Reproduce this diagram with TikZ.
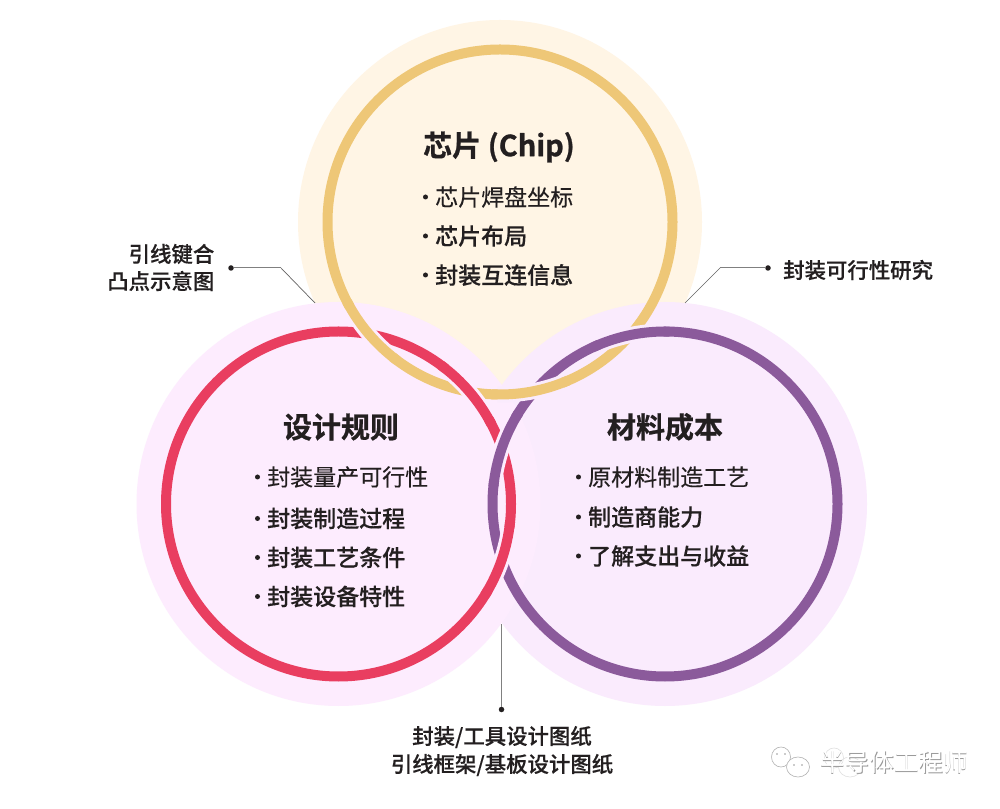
\documentclass[tikz,border=0pt]{standalone}
\usepackage{fontspec}
\setmainfont{Noto Sans CJK SC}
\newfontfamily\cjkreg[FakeBold=0.25]{Noto Sans CJK SC}
\newfontfamily\cjkmed[FakeBold=0.35]{Noto Sans CJK SC Medium}
\newfontfamily\cjkbold[FakeBold=0.8]{Noto Sans CJK SC Bold}
\newfontfamily\cjkplain{Noto Sans CJK SC}
\definecolor{inkdark}{HTML}{231F20}
\definecolor{creamhalo}{HTML}{FFF5E5}
\definecolor{pinkhalo}{HTML}{FDECFE}
\definecolor{lilachalo}{HTML}{FAEBFD}
\definecolor{ringgold}{HTML}{EEC777}
\definecolor{ringred}{HTML}{E93E60}
\definecolor{ringviolet}{HTML}{8B5A9B}
\definecolor{leadgray}{HTML}{808080}
\tikzset{
  ringline/.style={line width=10pt},
  heading/.style={inner sep=0pt,anchor=center,text=inkdark,font=\cjkbold\fontsize{29}{29}\selectfont},
  firstitem/.style={inner sep=0pt,anchor=west,text=inkdark,font=\cjkreg\fontsize{23}{23}\selectfont},
  listitem/.style={inner sep=0pt,anchor=west,text=inkdark,font=\cjkmed\fontsize{23}{23}\selectfont},
  callout/.style={inner sep=0pt,text=inkdark,font=\cjkmed\fontsize{21.4}{21.4}\selectfont},
  leaddot/.style={circle,fill=inkdark,inner sep=0pt,minimum size=5.5pt},
  leader/.style={draw=leadgray,line width=1pt},
  tickdot/.style={circle,fill=inkdark,inner sep=0pt,minimum size=5pt},
  markfont/.style={inner sep=0pt,anchor=west,font=\cjkplain\fontsize{24.6}{24.6}\selectfont},
}
% One ring passing over another: a pale gap band, then the ring itself, as a short arc
\newcommand{\overpass}[4]{%
  \pgfmathsetmacro{\arcA}{#2-11}\pgfmathsetmacro{\arcB}{#2+11}%
  \draw[line width=16pt,#3] ([shift={(\arcA:172.5pt)}]#1) arc[start angle=\arcA,end angle=\arcB,radius=172.5pt];%
  \pgfmathsetmacro{\arcA}{#2-13}\pgfmathsetmacro{\arcB}{#2+13}%
  \draw[ringline,#4] ([shift={(\arcA:172.5pt)}]#1) arc[start angle=\arcA,end angle=\arcB,radius=172.5pt];%
}
\begin{document}
\begin{tikzpicture}[x=1pt,y=1pt]
\useasboundingbox (0,0) rectangle (1000,808);
\fill[white] (0,0) rectangle (1000,808);
\coordinate (topc) at (500,586);
\coordinate (leftc) at (338.5,304);
\coordinate (rightc) at (665,304);

% halos
\fill[creamhalo] (topc) circle[radius=202pt];
\fill[lilachalo] (rightc) circle[radius=202pt];
\fill[pinkhalo] (leftc) circle[radius=202pt];

% rings
\draw[ringline,ringgold] (topc) circle[radius=172.5pt];
\draw[ringline,ringred] (leftc) circle[radius=172.5pt];
\draw[ringline,ringviolet] (rightc) circle[radius=172.5pt];

% over/under weave at the six crossings
\overpass{topc}{220.5}{pinkhalo}{ringgold}
\overpass{leftc}{40.6}{pinkhalo}{ringred}
\overpass{topc}{-79.8}{lilachalo}{ringgold}
\overpass{rightc}{101.5}{lilachalo}{ringviolet}
\overpass{rightc}{161.1}{pinkhalo}{ringviolet}
\overpass{leftc}{-18.9}{pinkhalo}{ringred}

% top circle text
\node[heading] (t0) at (499,661) {芯片 (Chip)};
\node[tickdot] (tb1) at (425.5,611) {};
\node[firstitem] (t1) at (435,611) {芯片焊盘坐标};
\node[tickdot] (tb2) at (425.5,572) {};
\node[listitem] (t2) at (435,572) {芯片布局};
\node[tickdot] (tb3) at (425.5,533) {};
\node[listitem] (t3) at (435,533) {封装互连信息};

% left circle text
\node[heading] (l0) at (341,381) {设计规则};
\node[tickdot] (lb1) at (257.5,331) {};
\node[firstitem] (l1) at (267,331) {封装量产可行性};
\node[tickdot] (lb2) at (257.5,289.5) {};
\node[listitem] (l2) at (267,289.5) {封装制造过程};
\node[tickdot] (lb3) at (257.5,250.5) {};
\node[listitem] (l3) at (267,250.5) {封装工艺条件};
\node[tickdot] (lb4) at (257.5,211.5) {};
\node[listitem] (l4) at (267,211.5) {封装设备特性};

% right circle text
\node[heading] (r0) at (665,381) {材料成本};
\node[tickdot] (rb1) at (578.5,331) {};
\node[firstitem] (r1) at (588,331) {原材料制造工艺};
\node[tickdot] (rb2) at (578.5,291) {};
\node[listitem] (r2) at (588,291) {制造商能力};
\node[tickdot] (rb3) at (578.5,252) {};
\node[listitem] (r3) at (588,252) {了解支出与收益};

% callouts and leader lines
\node[callout,anchor=east] (c1a) at (214.5,554) {引线键合};
\node[callout,anchor=east] (c1b) at (214.5,527) {凸点示意图};
\node[leaddot] (d1) at (231,540) {};
\coordinate (k1) at (281,540);
\coordinate (e1) at (315,505);
\draw[leader] (d1) -- (k1);
\draw[draw=leadgray!70!inkdark,line width=.7pt] (k1) -- (e1);

\node[callout,anchor=west] (c2) at (783,538) {封装可行性研究};
\node[leaddot] (d2) at (768,540) {};
\coordinate (k2) at (720,540);
\coordinate (e2) at (685,505);
\draw[leader] (d2) -- (k2);
\draw[draw=leadgray!70!inkdark,line width=.7pt] (k2) -- (e2);

\node[callout] (c3a) at (502,71) {封装/工具设计图纸};
\node[callout] (c3b) at (502,43) {引线框架/基板设计图纸};
\node[leaddot] (d3) at (501.5,98.5) {};
\coordinate (e3) at (501.5,184);
\draw[leader] (d3) -- (e3);

% watermark: speech bubbles and the account name
\begin{scope}[draw=black!30,fill=white,line width=.6pt]
  \filldraw (781,51) ellipse[x radius=9.5pt,y radius=10pt];
  \filldraw (798,41) ellipse[x radius=11.5pt,y radius=10pt];
  \fill[black!40] (777,54) circle[radius=.9pt] (785,54) circle[radius=.9pt]
                  (794,43) circle[radius=.9pt] (802,43) circle[radius=.9pt];
  \draw[black!12] (834,50) ellipse[x radius=9.5pt,y radius=10pt];
  \draw[black!12] (850,41) ellipse[x radius=11.5pt,y radius=10pt];
\end{scope}
\node[markfont,text=black!40] (w0) at (820.7,45.3) {半导体工程师};
\node[markfont,text=white] (w1) at (820,46) {半导体工程师};
\end{tikzpicture}
\end{document}
